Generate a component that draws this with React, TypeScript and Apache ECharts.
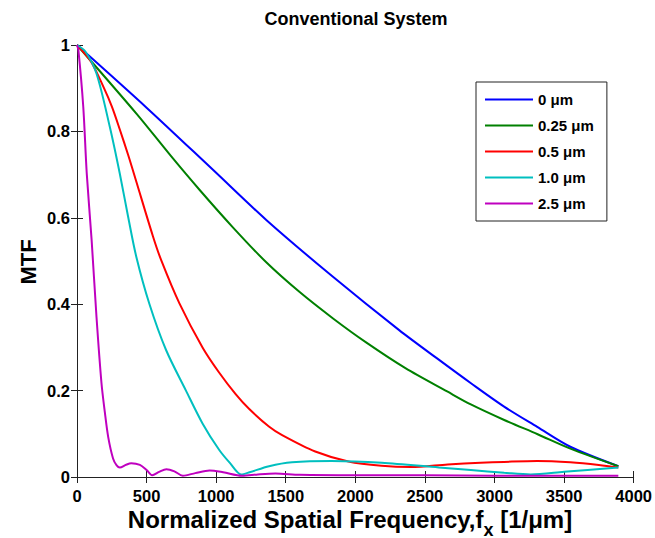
import React, { useEffect, useRef } from "react";
import * as echarts from "echarts";

// MTF curves of the conventional system for several defocus amounts.
const seriesNames = ["0 μm", "0.25 μm", "0.5 μm", "1.0 μm", "2.5 μm"];
const seriesColors = ["#0000ff", "#008000", "#ff0000", "#00bfbf", "#bf00bf"];

const freq0 = [0, 500, 977, 1360, 1837, 2315, 2602, 2831, 3069, 3307, 3545, 3890];
const mtf0 = [1, 0.855, 0.711, 0.595, 0.464, 0.34, 0.271, 0.217, 0.163, 0.116, 0.07, 0.025];

const freq025 = [0, 430, 670, 880, 1120, 1360, 1600, 1840, 2080, 2360, 2660, 2830, 3070, 3310, 3550, 3890];
const mtf025 = [1, 0.84, 0.745, 0.665, 0.578, 0.497, 0.428, 0.367, 0.311, 0.252, 0.198, 0.168, 0.132, 0.099, 0.065, 0.025];

const freq05 = [0, 100, 190, 250, 307, 370, 426, 545, 605, 736, 902, 1021, 1140, 1236, 1379, 1474, 1712, 1950, 2188, 2400, 2664, 2900, 3069, 3307, 3545, 3750, 3890];
const mtf05 = [1, 0.962, 0.903, 0.858, 0.805, 0.743, 0.684, 0.558, 0.502, 0.402, 0.3, 0.242, 0.192, 0.158, 0.117, 0.097, 0.059, 0.036, 0.026, 0.023, 0.029, 0.033, 0.035, 0.037, 0.034, 0.028, 0.022];

const freq10 = [0, 60, 140, 236, 307, 367, 426, 521, 640, 783, 902, 1021, 1100, 1180, 1240, 1380, 1545, 1830, 2190, 2600, 2830, 3070, 3260, 3500, 3890];
const mtf10 = [1, 0.985, 0.934, 0.81, 0.703, 0.603, 0.51, 0.4, 0.294, 0.2, 0.124, 0.063, 0.032, 0.006, 0.011, 0.025, 0.034, 0.037, 0.033, 0.022, 0.016, 0.01, 0.006, 0.012, 0.022];

const freq25 = [0, 10, 45, 70, 105, 140, 176, 200, 224, 259, 285, 308, 350, 390, 452, 500, 540, 590, 643, 700, 760, 850, 953, 1050, 1186, 1300, 1426, 1600, 2000, 2500, 3000, 3500, 3890];
const mtf25 = [1, 0.988, 0.857, 0.703, 0.549, 0.371, 0.217, 0.15, 0.093, 0.043, 0.027, 0.022, 0.028, 0.032, 0.028, 0.016, 0.004, 0.012, 0.018, 0.013, 0.003, 0.009, 0.015, 0.011, 0.003, 0.006, 0.008, 0.005, 0.004, 0.004, 0.003, 0.003, 0.003];

const xTicks = { min: 0, max: 4000, interval: 500 };
const yTicks = { min: 0, max: 1, interval: 0.2 };

const FONT = 'Arial, "Liberation Sans", Helvetica, sans-serif';

// x-axis title, drawn as three pieces so the "x" can sit as a subscript
const xTitleMain = "Normalized Spatial Frequency,f";
const xTitleSub = "x";
const xTitleTail = " [1/μm]";

const pairs = (xs: number[], ys: number[]) => xs.map((x, i) => [x, ys[i]]);

function textWidth(text: string, font: string): number {
  const ctx = document.createElement("canvas").getContext("2d");
  if (!ctx) return text.length * 12;
  ctx.font = font;
  return ctx.measureText(text).width;
}

export default function App() {
  const ref = useRef<HTMLDivElement>(null);

  useEffect(() => {
    document.body.style.margin = "0";
    if (!ref.current) return;
    const chart = echarts.init(ref.current, undefined, { renderer: "svg" });

    const curves = [
      pairs(freq0, mtf0),
      pairs(freq025, mtf025),
      pairs(freq05, mtf05),
      pairs(freq10, mtf10),
      pairs(freq25, mtf25),
    ];

    const axisLine = { show: true, lineStyle: { color: "#222", width: 1 } };
    const tick = { show: true, inside: true, length: 6, lineStyle: { color: "#222" } };
    const tickLabel = {
      color: "#000",
      fontSize: 16.5,
      lineHeight: 17,
      fontWeight: "bold" as const,
      fontFamily: FONT,
      formatter: (v: number) => String(v),
    };

    const mainFont = `bold 24px ${FONT}`;
    const subFont = `bold 18px ${FONT}`;
    const w1 = textWidth(xTitleMain, mainFont);
    const w2 = textWidth(xTitleSub, subFont);
    const w3 = textWidth(xTitleTail, mainFont);
    const xStart = 350 - (w1 + w2 + w3) / 2;
    const titleY = 519.5;

    chart.setOption({
      animation: false,
      backgroundColor: "#fff",
      grid: { left: 77, right: 20, top: 45, bottom: 61, containLabel: false },
      xAxis: [
        {
          type: "value",
          ...xTicks,
          position: "bottom",
          axisLine,
          axisTick: tick,
          axisLabel: { ...tickLabel, margin: 10.5 },
          splitLine: { show: false },
        },
        {
          type: "value",
          ...xTicks,
          position: "top",
          axisLine,
          axisTick: tick,
          axisLabel: { show: false },
          splitLine: { show: false },
        },
      ],
      yAxis: [
        {
          type: "value",
          ...yTicks,
          position: "left",
          axisLine,
          axisTick: tick,
          axisLabel: { ...tickLabel, margin: 7 },
          splitLine: { show: false },
        },
        {
          type: "value",
          ...yTicks,
          position: "right",
          axisLine,
          axisTick: tick,
          axisLabel: { show: false },
          splitLine: { show: false },
        },
      ],
      legend: {
        orient: "vertical",
        left: 476,
        top: 82,
        icon: "rect",
        itemWidth: 48,
        itemHeight: 2,
        itemGap: 11,
        padding: [10, 13, 10, 9],
        borderColor: "#222",
        borderWidth: 1,
        borderRadius: 0,
        backgroundColor: "#fff",
        textStyle: { color: "#000", fontSize: 15, fontWeight: "bold", fontFamily: FONT },
        data: seriesNames,
      },
      series: curves.map((data, i) => ({
        name: seriesNames[i],
        type: "line",
        data,
        symbol: "none",
        smooth: 0.3,
        color: seriesColors[i],
        lineStyle: { color: seriesColors[i], width: 2 },
        z: 2 + i,
      })),
      graphic: [
        {
          type: "text",
          x: 356,
          y: 19,
          style: {
            text: "Conventional System",
            fill: "#000",
            font: `bold 18px ${FONT}`,
            align: "center",
            verticalAlign: "middle",
          },
        },
        {
          type: "text",
          x: 28,
          y: 262,
          rotation: Math.PI / 2,
          style: {
            text: "MTF",
            fill: "#000",
            font: `bold 22px ${FONT}`,
            align: "center",
            verticalAlign: "middle",
          },
        },
        {
          type: "text",
          x: xStart,
          y: titleY,
          style: {
            text: xTitleMain,
            fill: "#000",
            font: mainFont,
            lineHeight: 24,
            align: "left",
            verticalAlign: "middle",
          },
        },
        {
          type: "text",
          x: xStart + w1,
          y: titleY + 10,
          style: {
            text: xTitleSub,
            fill: "#000",
            font: subFont,
            lineHeight: 16,
            align: "left",
            verticalAlign: "middle",
          },
        },
        {
          type: "text",
          x: xStart + w1 + w2,
          y: titleY,
          style: {
            text: xTitleTail,
            fill: "#000",
            font: mainFont,
            lineHeight: 24,
            align: "left",
            verticalAlign: "middle",
          },
        },
      ],
    });

    return () => chart.dispose();
  }, []);

  return (
    <div
      ref={ref}
      style={{ position: "fixed", left: 0, top: 0, width: 655, height: 538 }}
    />
  );
}
